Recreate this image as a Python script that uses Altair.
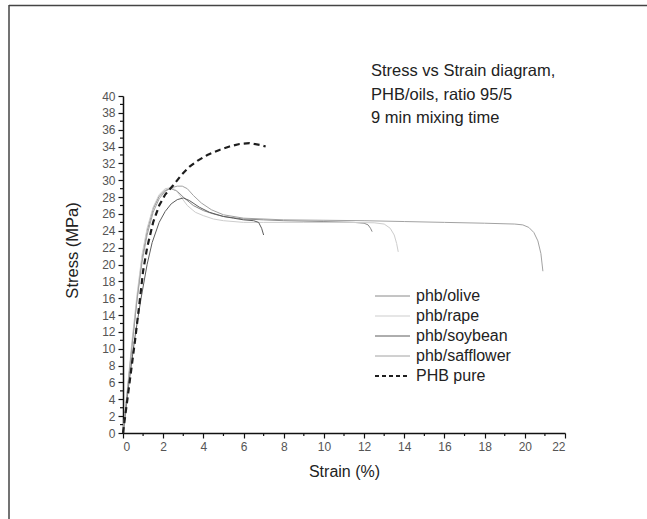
import altair as alt
import pandas as pd

# ---------------- data ----------------
series_names = ["phb/olive", "phb/rape", "phb/soybean", "phb/safflower", "PHB pure"]
series_colors = ["#8a8a8a", "#cdcdcd", "#5c5c5c", "#a2a2a2", "#1e1e1e"]

olive_x = [0, 0.2, 0.45, 0.7, 0.95, 1.2, 1.5, 1.8, 2.1, 2.4, 2.7, 3.0, 3.5, 4.0, 4.5, 5.0, 6.0, 7.0, 8.0, 10.0, 11.5, 12.0, 12.2, 12.32, 12.4]
olive_y = [0, 4.5, 10.5, 16.0, 20.8, 24.0, 26.6, 28.1, 28.8, 29.0, 28.7, 28.0, 27.0, 26.4, 26.0, 25.7, 25.4, 25.3, 25.2, 25.1, 25.0, 24.9, 24.7, 24.3, 23.9]

rape_x = [0, 0.2, 0.45, 0.7, 0.95, 1.2, 1.5, 1.8, 2.1, 2.35, 2.6, 2.8, 3.2, 3.6, 4.0, 4.5, 5.0, 6.0, 7.0, 9.0, 11.0, 12.5, 13.0, 13.3, 13.5, 13.62, 13.7]
rape_y = [0, 4.8, 11.0, 16.5, 21.2, 24.3, 26.8, 28.3, 29.0, 29.1, 28.9, 28.3, 27.0, 26.2, 25.8, 25.4, 25.2, 25.0, 25.0, 25.0, 25.0, 24.95, 24.8, 24.3, 23.5, 22.5, 21.5]

soybean_x = [0, 0.3, 0.6, 0.9, 1.2, 1.45, 1.8, 2.1, 2.4, 2.7, 3.0, 3.3, 3.8, 4.3, 5.0, 5.5, 6.0, 6.5, 6.75, 6.9, 7.0]
soybean_y = [0, 6.0, 11.5, 16.0, 20.0, 22.6, 25.0, 26.3, 27.2, 27.7, 27.9, 27.6, 26.8, 26.2, 25.7, 25.5, 25.3, 25.2, 25.0, 24.3, 23.5]

safflower_x = [0, 0.2, 0.45, 0.7, 0.95, 1.2, 1.5, 1.8, 2.1, 2.4, 2.7, 2.95, 3.2, 3.5, 3.9, 4.4, 5.0, 6.0, 8.0, 10.0, 12.0, 14.0, 16.0, 18.0, 19.5, 19.9, 20.2, 20.45, 20.65, 20.8, 20.9]
safflower_y = [0, 4.5, 10.3, 15.8, 20.3, 23.5, 26.2, 27.8, 28.7, 29.1, 29.3, 29.3, 29.0, 28.2, 27.3, 26.5, 25.9, 25.5, 25.3, 25.25, 25.2, 25.1, 25.0, 24.9, 24.8, 24.7, 24.4, 23.8, 22.8, 21.3, 19.2]

pure_x = [0, 0.3, 0.6, 0.8, 1.0, 1.2, 1.5, 1.8, 2.1, 2.5, 2.9, 3.3, 3.7, 4.2, 4.8, 5.3, 5.8, 6.3, 6.8, 7.1]
pure_y = [0, 5.5, 11.0, 15.0, 19.2, 22.0, 25.0, 27.0, 28.3, 29.4, 30.6, 31.6, 32.3, 33.0, 33.6, 34.0, 34.3, 34.4, 34.2, 34.0]

title_lines = ["Stress vs Strain diagram,", "PHB/oils, ratio 95/5", "9 min mixing time"]
x_ticks = list(range(0, 23, 2))
y_ticks = list(range(0, 41, 2))
x_minor = list(range(1, 22, 2))
y_minor = list(range(1, 40, 2))

# ---------------- build table ----------------
curves = [
    (olive_x, olive_y), (rape_x, rape_y), (soybean_x, soybean_y),
    (safflower_x, safflower_y), (pure_x, pure_y),
]
rows = []
for name, (xs, ys) in zip(series_names, curves):
    for i, (a, b) in enumerate(zip(xs, ys)):
        rows.append({"series": name, "strain": a, "stress": b, "i": i})
df = pd.DataFrame(rows)
oils_df = df[df["series"] != "PHB pure"]
pure_df = df[df["series"] == "PHB pure"]

# ---------------- layout ----------------
W, H = 442, 337
LEFT, TOP = 123, 96
FONT = "Liberation Sans"

xscale = alt.Scale(domain=[0, 22], nice=False, zero=False)
yscale = alt.Scale(domain=[0, 40], nice=False)
cscale = alt.Scale(domain=series_names, range=series_colors)

x_axis = alt.Axis(values=x_ticks, title="Strain (%)", grid=False, domainColor="#111",
                  domainWidth=1.5, tickColor="#111", tickSize=5, tickWidth=1.2,
                  labelFontSize=12, labelColor="#555", labelPadding=3, labelFont=FONT,
                  titleFontSize=16, titleFontWeight="normal", titleColor="#222", titleFont=FONT,
                  titleY=38, titleBaseline="middle")
y_axis = alt.Axis(values=y_ticks, title="Stress (MPa)", grid=False, domainColor="#111",
                  domainWidth=1.5, tickColor="#111", tickSize=5, tickWidth=1.2,
                  labelFontSize=12, labelColor="#555", labelPadding=3, labelFont=FONT,
                  titleFontSize=16.5, titleFontWeight="normal", titleColor="#222", titleFont=FONT,
                  titleX=-51, titleY=154, titleBaseline="middle", titleAlign="center")

oils = alt.Chart(oils_df).mark_line(strokeWidth=1, clip=False).encode(
    x=alt.X("strain:Q", scale=xscale, axis=x_axis),
    y=alt.Y("stress:Q", scale=yscale, axis=y_axis),
    color=alt.Color("series:N", scale=cscale, legend=None),
    order="i:Q",
)
pure = alt.Chart(pure_df).mark_line(strokeWidth=2.2, strokeDash=[6, 4], clip=False).encode(
    x=alt.X("strain:Q", scale=xscale, axis=x_axis),
    y=alt.Y("stress:Q", scale=yscale, axis=y_axis),
    color=alt.Color("series:N", scale=cscale, legend=None),
    order="i:Q",
)

ymin = alt.Chart(pd.DataFrame({"stress": y_minor})).mark_rule(color="#111", strokeWidth=1.2).encode(
    y=alt.Y("stress:Q", scale=yscale, axis=y_axis), x=alt.value(-3), x2=alt.value(0))
xmin = alt.Chart(pd.DataFrame({"strain": x_minor})).mark_rule(color="#111", strokeWidth=1.2).encode(
    x=alt.X("strain:Q", scale=xscale, axis=x_axis), y=alt.value(H), y2=alt.value(H + 3))

one = pd.DataFrame({"a": [0]})
frame_left = alt.Chart(one).mark_rule(color="#444", strokeWidth=1.5).encode(
    x=alt.value(9 - LEFT), y=alt.value(5 - TOP), y2=alt.value(519 - TOP))
frame_top = alt.Chart(one).mark_rule(color="#444", strokeWidth=1.5).encode(
    x=alt.value(9 - LEFT), x2=alt.value(647 - LEFT), y=alt.value(5.5 - TOP))

layers = [frame_left, frame_top, oils, pure, ymin, xmin]

title_y = [71, 95, 118]
for line, ty in zip(title_lines, title_y):
    layers.append(alt.Chart(one).mark_text(align="left", baseline="middle", fontSize=16.5,
                                           font=FONT, color="#222").encode(
        x=alt.value(371 - LEFT), y=alt.value(ty - TOP), text=alt.value(line)))

for k, (name, col) in enumerate(zip(series_names, series_colors)):
    ly = 296 + 20 * k - TOP
    dash = [4, 3] if name == "PHB pure" else [1, 0]
    sw = 2 if name == "PHB pure" else 1
    layers.append(alt.Chart(one).mark_rule(color=col, strokeWidth=sw, strokeDash=dash).encode(
        x=alt.value(375 - LEFT), x2=alt.value(410 - LEFT), y=alt.value(ly)))
    layers.append(alt.Chart(one).mark_text(align="left", baseline="middle", fontSize=16,
                                           font=FONT, color="#222").encode(
        x=alt.value(416 - LEFT), y=alt.value(ly), text=alt.value(name)))

chart = alt.layer(*layers).properties(
    width=W, height=H,
    padding={"left": LEFT, "top": TOP, "right": 647 - LEFT - W, "bottom": 519 - TOP - H},
    autosize=alt.AutoSizeParams(type="none"),
    background="white",
).configure(font=FONT).configure_view(stroke=None)

chart.save("out.html", embed_options={"renderer": "svg", "actions": False})
